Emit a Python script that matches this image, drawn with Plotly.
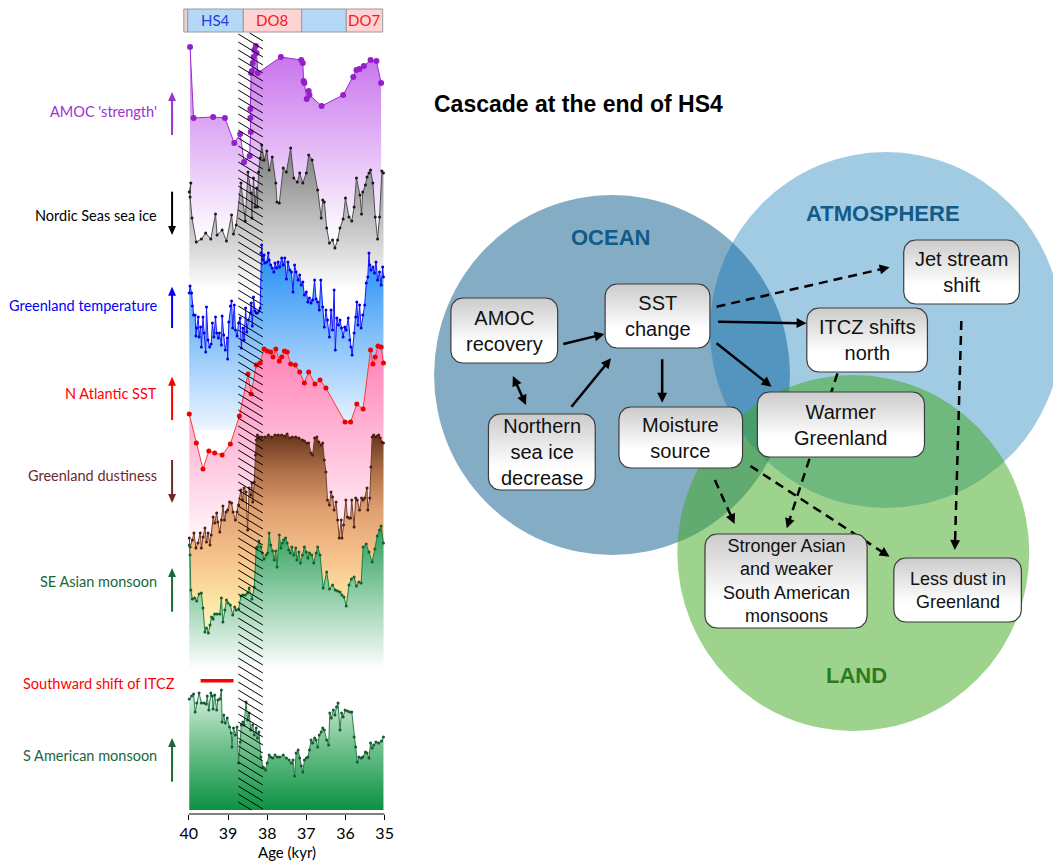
import math
import plotly.graph_objects as go

W, H = 1062, 862

# ------------------------------------------------------------------ data
amoc_age = [39.97, 39.88, 39.38, 39.08, 38.84, 38.69, 38.59, 38.45, 38.42, 38.43, 38.43, 38.41, 38.39, 38.37,
            38.35, 38.33, 38.29, 38.27, 38.24, 37.65, 37.13, 37.09, 37.07, 37.05, 36.99, 36.94, 36.92, 36.61,
            36.06, 35.80, 35.72, 35.64, 35.53, 35.36, 35.21, 35.09]
amoc_val = [193, 122, 123, 122, 97, 106, 78, 84, 108, 122, 131, 167, 169, 177, 183, 190, 194, 187, 167, 183,
            180, 177, 159, 157, 141, 149, 145, 134, 145, 163, 170, 171, 174, 180, 179, 157]

ice_age = [39.99, 39.95, 39.97, 39.92, 39.81, 39.68, 39.57, 39.44, 39.32, 39.28, 39.15, 39.04, 38.91, 38.86,
           38.79, 38.67, 38.56, 38.49, 38.41, 38.39, 38.35, 38.31, 38.27, 38.25, 38.22, 38.18, 38.14, 38.08,
           38.01, 37.95, 37.87, 37.78, 37.75, 37.69, 37.59, 37.51, 37.40, 37.32, 37.23, 37.17, 37.09, 37.00,
           36.94, 36.85, 36.71, 36.62, 36.58, 36.54, 36.48, 36.41, 36.33, 36.27, 36.20, 36.14, 36.06, 36.00,
           35.91, 35.84, 35.78, 35.72, 35.63, 35.59, 35.56, 35.49, 35.45, 35.40, 35.36, 35.30, 35.24, 35.18,
           35.13, 35.07, 35.03]
ice_val = [98, 107, 93, 72, 48, 51, 57, 51, 76, 55, 60, 49, 75, 56, 65, 107, 69, 118, 97, 72, 112, 83, 102, 83,
           118, 132, 145, 130, 139, 120, 133, 107, 88, 87, 122, 118, 142, 112, 108, 117, 107, 117, 135, 130,
           100, 72, 90, 88, 62, 47, 50, 42, 50, 62, 71, 92, 73, 69, 83, 112, 95, 76, 98, 105, 113, 117, 120,
           107, 73, 51, 73, 119, 117]

gtemp_age = [39.99, 39.97, 39.93, 39.91, 39.88, 39.84, 39.82, 39.80, 39.76, 39.74, 39.70, 39.68, 39.64, 39.61,
             39.57, 39.55, 39.51, 39.47, 39.43, 39.40, 39.36, 39.32, 39.29, 39.25, 39.22, 39.17, 39.15, 39.11,
             39.07, 39.02, 39.01, 38.98, 38.94, 38.91, 38.88, 38.84, 38.81, 38.77, 38.73, 38.69, 38.66, 38.62,
             38.59, 38.55, 38.52, 38.48, 38.43, 38.41, 38.38, 38.35, 38.31, 38.28, 38.25, 38.21, 38.18, 38.16,
             38.14, 38.11, 38.08, 38.06, 38.01, 37.97, 37.95, 37.91, 37.87, 37.83, 37.80, 37.76, 37.72, 37.68,
             37.63, 37.59, 37.55, 37.51, 37.47, 37.42, 37.38, 37.34, 37.30, 37.26, 37.21, 37.17, 37.13, 37.09,
             37.05, 37.00, 36.96, 36.92, 36.88, 36.84, 36.79, 36.75, 36.71, 36.67, 36.63, 36.58, 36.54, 36.50,
             36.46, 36.41, 36.37, 36.33, 36.29, 36.26, 36.22, 36.18, 36.14, 36.10, 36.06, 36.02, 35.98, 35.93,
             35.89, 35.86, 35.83, 35.78, 35.74, 35.71, 35.68, 35.64, 35.60, 35.56, 35.51, 35.47, 35.43, 35.40,
             35.38, 35.35, 35.30, 35.26, 35.22, 35.18, 35.13, 35.09, 35.05, 35.03]
gtemp_val = [137, 144, 137, 124, 115, 115, 94, 102, 113, 93, 103, 83, 113, 97, 78, 123, 90, 83, 86, 107,
             93, 113, 97, 92, 97, 85, 114, 95, 80, 92, 71, 108, 124, 129, 102, 125, 100, 94, 107, 112,
             82, 102, 90, 122, 98, 110, 117, 127, 104, 133, 119, 117, 117, 119, 122, 177, 185, 170, 175, 167,
             168, 177, 170, 165, 162, 158, 167, 162, 168, 163, 172, 165, 172, 151, 168, 160, 158, 138, 165, 158,
             150, 155, 145, 148, 135, 138, 128, 132, 127, 130, 150, 131, 128, 120, 150, 123, 103, 120, 110, 93,
             120, 100, 140, 80, 112, 105, 110, 102, 93, 103, 100, 112, 90, 83, 75, 97, 113, 128, 105, 125,
             102, 115, 125, 147, 153, 177, 165, 160, 163, 157, 168, 150, 158, 145, 163, 153]

sst_age = [39.99, 39.81, 39.64, 39.49, 39.34, 39.15, 38.94, 38.71, 38.49, 38.41, 38.28, 38.18, 38.08, 38.00,
           37.91, 37.85, 37.78, 37.69, 37.63, 37.56, 37.49, 37.40, 37.28, 37.17, 37.05, 36.94, 36.78, 36.65,
           36.50, 36.01, 35.87, 35.71, 35.55, 35.36, 35.30, 35.24, 35.17, 35.09, 35.03]
sst_val = [126, 97, 71, 89, 87, 85, 96, 124, 166, 146, 175, 177, 191, 189, 188, 183, 191, 179, 183, 189, 188,
           176, 175, 168, 157, 168, 156, 160, 152, 118, 118, 136, 131, 190, 176, 183, 194, 193, 177]

dust_age = [39.99, 39.97, 39.91, 39.87, 39.82, 39.77, 39.71, 39.68, 39.64, 39.59, 39.55, 39.51, 39.46, 39.43,
            39.38, 39.34, 39.29, 39.26, 39.21, 39.17, 39.13, 39.09, 39.05, 39.01, 38.96, 38.91, 38.87, 38.81,
            38.77, 38.73, 38.67, 38.63, 38.59, 38.54, 38.50, 38.46, 38.42, 38.39, 38.37, 38.33, 38.30, 38.28,
            38.25, 38.20, 38.14, 38.06, 37.97, 37.89, 37.80, 37.72, 37.63, 37.55, 37.49, 37.42, 37.36, 37.27,
            37.19, 37.10, 37.05, 36.99, 36.94, 36.88, 36.84, 36.79, 36.73, 36.68, 36.62, 36.58, 36.54, 36.50,
            36.46, 36.41, 36.37, 36.33, 36.29, 36.24, 36.20, 36.16, 36.11, 36.09, 36.05, 35.99, 35.95, 35.91,
            35.87, 35.84, 35.78, 35.74, 35.70, 35.64, 35.59, 35.55, 35.51, 35.45, 35.43, 35.38, 35.35, 35.32,
            35.28, 35.24, 35.19, 35.15, 35.11, 35.07, 35.03]
dust_val = [122, 113, 120, 127, 112, 117, 127, 112, 123, 132, 118, 127, 115, 125, 143, 137, 147, 138, 128, 140,
            154, 140, 148, 150, 158, 157, 148, 140, 148, 155, 170, 160, 172, 168, 130, 172, 165, 177, 158, 178,
            205, 220, 225, 223, 223, 223, 225, 223, 225, 225, 225, 224, 226, 222, 223, 223, 222, 220, 219, 217,
            217, 207, 205, 222, 223, 218, 215, 217, 200, 188, 160, 155, 168, 163, 150, 158, 140, 122, 140, 122,
            135, 160, 143, 142, 142, 160, 133, 162, 160, 150, 162, 160, 162, 172, 150, 162, 193, 223, 225, 223,
            224, 225, 222, 218, 217]

seasia_age = [39.99, 39.97, 39.95, 39.91, 39.85, 39.80, 39.74, 39.68, 39.64, 39.59, 39.55, 39.50, 39.46, 39.42,
              39.38, 39.34, 39.28, 39.21, 39.17, 39.13, 39.08, 39.04, 39.00, 38.94, 38.88, 38.83, 38.79, 38.73,
              38.67, 38.62, 38.56, 38.50, 38.46, 38.39, 38.33, 38.28, 38.25, 38.21, 38.16, 38.12, 38.08, 38.03,
              37.99, 37.95, 37.91, 37.86, 37.82, 37.78, 37.75, 37.69, 37.65, 37.61, 37.58, 37.53, 37.49, 37.45,
              37.41, 37.37, 37.32, 37.27, 37.24, 37.19, 37.15, 37.10, 37.05, 37.00, 36.96, 36.92, 36.86, 36.81,
              36.75, 36.71, 36.65, 36.57, 36.48, 36.41, 36.33, 36.26, 36.20, 36.14, 36.09, 36.04, 35.98, 35.91,
              35.85, 35.78, 35.72, 35.66, 35.60, 35.55, 35.47, 35.40, 35.32, 35.25, 35.19, 35.13, 35.09, 35.03]
seasia_val = [125, 115, 80, 71, 72, 69, 76, 77, 62, 38, 42, 37, 45, 53, 51, 56, 56, 56, 72, 48,
              60, 70, 67, 65, 55, 63, 60, 61, 74, 75, 75, 77, 82, 71, 83, 122, 123, 129, 123, 117,
              111, 115, 117, 137, 125, 119, 110, 119, 103, 135, 122, 127, 130, 132, 127, 120, 117, 123, 115, 122,
              110, 118, 107, 115, 123, 118, 112, 117, 115, 107, 117, 123, 115, 82, 98, 81, 85, 80, 79, 78,
              75, 73, 64, 85, 91, 93, 84, 88, 87, 123, 126, 118, 108, 121, 134, 140, 144, 127]

samer_age = [39.99, 39.93, 39.88, 39.84, 39.80, 39.74, 39.68, 39.61, 39.56, 39.53, 39.49, 39.44, 39.40, 39.38,
             39.34, 39.29, 39.26, 39.21, 39.17, 39.15, 39.11, 39.07, 39.02, 38.96, 38.92, 38.90, 38.86, 38.81,
             38.77, 38.73, 38.69, 38.66, 38.62, 38.59, 38.54, 38.50, 38.46, 38.42, 38.37, 38.33, 38.28, 38.25,
             38.21, 38.16, 38.11, 38.08, 38.04, 38.00, 37.95, 37.91, 37.86, 37.80, 37.74, 37.68, 37.59, 37.51,
             37.44, 37.38, 37.34, 37.30, 37.26, 37.21, 37.17, 37.13, 37.09, 37.05, 37.00, 36.96, 36.92, 36.88,
             36.84, 36.79, 36.75, 36.71, 36.67, 36.62, 36.58, 36.54, 36.48, 36.43, 36.40, 36.36, 36.31, 36.27,
             36.23, 36.19, 36.14, 36.10, 36.06, 36.01, 35.95, 35.89, 35.84, 35.78, 35.74, 35.70, 35.66, 35.60,
             35.56, 35.49, 35.45, 35.40, 35.36, 35.32, 35.28, 35.22, 35.15, 35.08, 35.03]
samer_val = [111, 114, 116, 98, 107, 117, 107, 107, 106, 114, 100, 117, 114, 101, 115, 100, 110, 111, 120, 88,
             95, 87, 92, 83, 77, 63, 82, 75, 83, 47, 68, 85, 88, 85, 108, 90, 97, 80, 85, 75,
             82, 72, 78, 53, 43, 42, 40, 47, 55, 53, 52, 55, 53, 53, 55, 52, 50, 47, 50, 34,
             57, 60, 52, 44, 38, 50, 52, 53, 60, 70, 67, 72, 70, 63, 75, 78, 82, 80, 70, 65,
             97, 92, 100, 95, 103, 107, 80, 97, 93, 100, 99, 98, 98, 73, 63, 48, 53, 52, 53, 58,
             57, 52, 67, 62, 65, 68, 67, 69, 73]

tick_vals = [40, 39, 38, 37, 36, 35]
tick_text = ["40", "39", "38", "37", "36", "35"]

band_labels = ["", "HS4", "DO8", "", "DO7"]
band_start = [40.13, 40.03, 38.61, 37.12, 35.98]
band_end = [40.03, 38.61, 37.12, 35.98, 35.05]
band_kind = ["edge", "HS", "DO", "HS", "DO"]

hatch_ages = [38.74, 38.11]
itcz_ages = [39.70, 38.86]

panel_labels = ["AMOC 'strength'", "Nordic Seas sea ice", "Greenland temperature", "N Atlantic SST",
                "Greenland dustiness", "SE Asian monsoon", "Southward shift of ITCZ", "S American monsoon"]

# ------------------------------------------------------------------ styling / layout constants
PX40, PX35, XMAX = 188, 386, 40.15
FONT_L = "Lato, Carlito, sans-serif"
FONT_R = "Liberation Sans, Arial, sans-serif"

series = [
    # age, val, top px, bottom px, line colour, marker colour, marker size, gradient
    (amoc_age, amoc_val, 40, 240, "#9a2ad0", "#9420cc", 6, [[0, "#ffffff"], [1, "#c468ec"]]),
    (ice_age, ice_val, 140, 290, "#505050", "#1a1a1a", 3, [[0, "#ffffff"], [1, "#767676"]]),
    (gtemp_age, gtemp_val, 245, 430, "#1a1aff", "#0000e0", 3, [[0, "#eef6fe"], [1, "#1a8af5"]]),
    (sst_age, sst_val, 340, 540, "#ff3a3a", "#ee0000", 5, [[0, "#fff7fb"], [1, "#ff7db4"]]),
    (dust_age, dust_val, 430, 660, "#74402c", "#4a2015", 3,
     [[0, "#fffef2"], [0.25, "#fde6a4"], [0.45, "#f6c28c"], [0.65, "#e0a070"], [0.82, "#b07048"], [1, "#5c2e16"]]),
    (seasia_age, seasia_val, 525, 670, "#1d8043", "#13602f", 3, [[0, "#ffffff"], [1, "#2a9e58"]]),
    (samer_age, samer_val, 685, 810, "#2a7d50", "#175a32", 3,
     [[0, "#0b9242"], [0.5, "#6ec08c"], [1, "#e6f5ea"]]),
]

fig = go.Figure()
layout_axes = {}
for i, (ages, vals, top, bot, lc, mc, ms, cs) in enumerate(series):
    yname = "y" if i == 0 else f"y{i + 1}"
    fig.add_trace(go.Scatter(
        x=ages, y=vals, xaxis="x", yaxis=yname, mode="lines+markers",
        line=dict(color=lc, width=1), marker=dict(size=ms, color=mc),
        fill="tozeroy", fillgradient=dict(type="vertical", colorscale=cs, start=0, stop=bot - top),
        cliponaxis=False, hoverinfo="skip", showlegend=False))
    key = "yaxis" if i == 0 else f"yaxis{i + 1}"
    layout_axes[key] = dict(domain=[1 - bot / H, 1 - top / H], range=[0, bot - top], visible=False,
                            anchor="x", fixedrange=True)

px_left = PX40 - (XMAX - 40) * (PX35 - PX40) / 5
layout_axes["xaxis"] = dict(domain=[px_left / W, PX35 / W], range=[XMAX, 35], anchor="free",
                            position=1 - 814 / H, showline=False, ticks="outside", ticklen=5, tickwidth=1,
                            tickcolor="black", tickvals=tick_vals, ticktext=tick_text,
                            tickfont=dict(family=FONT_L, size=16, color="black"),
                            showgrid=False, zeroline=False, fixedrange=True)
layout_axes["xaxis2"] = dict(domain=[0, 1], range=[0, W], visible=False, anchor="y8", fixedrange=True)
layout_axes["yaxis8"] = dict(domain=[0, 1], range=[H, 0], visible=False, anchor="x2", fixedrange=True)

shapes = []
annotations = []

# axis line
shapes.append(dict(type="line", xref="x", yref="paper", x0=40, x1=35, y0=1 - 814 / H, y1=1 - 814 / H,
                   line=dict(color="black", width=1)))

# top band
band_fill = {"edge": "#ead2d2", "HS": "#b5d8f7", "DO": "#ffd3d3"}
band_txt = {"HS": "#1f3fd8", "DO": "#ee1c24", "edge": "#000"}
for lab, a0, a1, kind in zip(band_labels, band_start, band_end, band_kind):
    shapes.append(dict(type="rect", xref="x", yref="paper", x0=a0, x1=a1, y0=1 - 32 / H, y1=1 - 9 / H,
                       fillcolor=band_fill[kind], line=dict(color="#9a9a9a", width=1)))
    if lab:
        annotations.append(dict(x=(a0 + a1) / 2, y=1 - 20.5 / H, xref="x", yref="paper", text=lab,
                                showarrow=False, xanchor="center", yanchor="middle",
                                font=dict(family=FONT_L, size=15, color=band_txt[kind])))

# hatched interval
hx0, hx1 = hatch_ages
ytop, ybot, drop, step = 33, 810, 15, 8
path = ""
yl = ytop - drop
while yl < ybot:
    t0 = max(0.0, (ytop - yl) / drop)
    t1 = min(1.0, (ybot - yl) / drop)
    if t1 > t0:
        xa = hx0 + t0 * (hx1 - hx0)
        xb = hx0 + t1 * (hx1 - hx0)
        ya = 1 - (yl + t0 * drop) / H
        yb = 1 - (yl + t1 * drop) / H
        path += f"M{xa},{ya} L{xb},{yb} "
    yl += step
shapes.append(dict(type="path", xref="x", yref="paper", path=path, line=dict(color="black", width=1)))

# ITCZ bar
shapes.append(dict(type="line", xref="x", yref="paper", x0=itcz_ages[0], x1=itcz_ages[1],
                   y0=1 - 680.7 / H, y1=1 - 680.7 / H, line=dict(color="#ff0000", width=3.5)))

annotations.append(dict(x=287, y=852, xref="x2", yref="y8", text="Age (kyr)", showarrow=False,
                        font=dict(family=FONT_L, size=15, color="black")))

# left labels + direction arrows
label_y = [111.7, 215, 305, 393, 475, 581.7, 683, 755]
label_col = ["#9933cc", "#000000", "#0000ff", "#ff0000", "#6b2b2b", "#17693a", "#ff0000", "#17693a"]
for txt, yy, col in zip(panel_labels, label_y, label_col):
    xr = 176 if "ITCZ" in txt else 158
    annotations.append(dict(x=xr, y=yy, xref="x2", yref="y8", text=txt, showarrow=False, xanchor="right",
                            yanchor="middle", font=dict(family=FONT_L, size=14.5, color=col)))


def head_pts(x0, y0, x1, y1, L, Wd):
    dx, dy = x1 - x0, y1 - y0
    n = math.hypot(dx, dy)
    ux, uy = dx / n, dy / n
    bx, by = x1 - ux * L, y1 - uy * L
    nx, ny = -uy, ux
    return [x1, bx + nx * Wd, bx - nx * Wd, x1], [y1, by + ny * Wd, by - ny * Wd, y1]


def add_arrow(x0, y0, x1, y1, color="black", width=2.5, dash="solid", both=False, L=10, Wd=5):
    dx, dy = x1 - x0, y1 - y0
    n = math.hypot(dx, dy)
    ux, uy = dx / n, dy / n
    ex, ey = x1 - ux * L * 0.8, y1 - uy * L * 0.8
    sx, sy = (x0 + ux * L * 0.8, y0 + uy * L * 0.8) if both else (x0, y0)
    fig.add_trace(go.Scatter(x=[sx, ex], y=[sy, ey], xaxis="x2", yaxis="y8", mode="lines",
                             line=dict(color=color, width=width, dash=dash), hoverinfo="skip", showlegend=False))
    hx, hy = head_pts(x0, y0, x1, y1, L, Wd)
    fig.add_trace(go.Scatter(x=hx, y=hy, xaxis="x2", yaxis="y8", mode="lines", fill="toself",
                             fillcolor=color, line=dict(width=0, color=color), hoverinfo="skip", showlegend=False))
    if both:
        hx, hy = head_pts(x1, y1, x0, y0, L, Wd)
        fig.add_trace(go.Scatter(x=hx, y=hy, xaxis="x2", yaxis="y8", mode="lines", fill="toself",
                                 fillcolor=color, line=dict(width=0, color=color), hoverinfo="skip",
                                 showlegend=False))


left_arrows = [(135, 92), (191.7, 235), (328, 286.7), (420, 376.7), (460, 503), (611.7, 568), (781.7, 738)]
left_arrow_col = ["#9933cc", "#000000", "#0000ff", "#ff0000", "#6b2b2b", "#17693a", "#17693a"]
for (ya, yb), col in zip(left_arrows, left_arrow_col):
    add_arrow(171, ya, 171, yb, color=col, width=2, L=9, Wd=4)

# ------------------------------------------------------------------ right-hand diagram
annotations.append(dict(x=434, y=104, xref="x2", yref="y8", text="<b>Cascade at the end of HS4</b>",
                        showarrow=False, xanchor="left", yanchor="middle",
                        font=dict(family=FONT_R, size=23, color="black")))

circles = [
    (616, 375, 180, "rgb(132,172,196)"),
    (893, 330, 178, "rgba(0,112,178,0.37)"),
    (860, 553, 178, "rgba(62,168,28,0.5)"),
]
for cx, cy, r, col in circles:
    shapes.append(dict(type="circle", xref="x2", yref="y8", x0=cx - r, x1=cx + r, y0=cy - r, y1=cy + r,
                       fillcolor=col, line=dict(width=0), layer="below"))

for txt, x, y, col in [("OCEAN", 614, 237, "#125a88"), ("ATMOSPHERE", 890, 213, "#125a88"),
                       ("LAND", 863, 675, "#2d7a1f")]:
    annotations.append(dict(x=x, y=y, xref="x2", yref="y8", text=f"<b>{txt}</b>", showarrow=False,
                            font=dict(family=FONT_R, size=22, color=col)))

arrows = [
    ((566.7, 344), (608.3, 334), "solid", False),
    ((515.7, 376), (529, 405), "solid", True),
    ((575, 406.7), (615, 358.3), "solid", False),
    ((666.7, 359.3), (666.7, 402.7), "solid", False),
    ((721.7, 306.7), (896.7, 267.3), "9px,6px", False),
    ((723.3, 321.7), (812.7, 323.3), "solid", False),
    ((721.7, 343.3), (777.3, 386.7), "solid", False),
    ((844, 373.3), (792.7, 528.3), "9px,6px", False),
    ((969.3, 321), (962.7, 550), "9px,6px", False),
    ((720, 480), (740, 524), "9px,6px", False),
    ((756, 466), (896.7, 556.7), "9px,6px", False),
]
for (p0, p1, dash, both) in arrows:
    add_arrow(p0[0], p0[1], p1[0], p1[1], dash=dash, both=both)

boxes = [
    ("AMOC<br>recovery", 453, 561, 298, 363, 20),
    ("SST<br>change", 609, 715, 284, 348, 20),
    ("Northern<br>sea ice<br>decrease", 491, 599, 414, 490, 20),
    ("Moisture<br>source", 623, 748, 407, 468, 20),
    ("Jet stream<br>shift", 911, 1028, 240, 304, 20),
    ("ITCZ shifts<br>north", 813, 935, 308, 372, 20),
    ("Warmer<br>Greenland", 763, 932, 392, 457, 20),
    ("Stronger Asian<br>and weaker<br>South American<br>monsoons", 710, 874, 534, 628, 18),
    ("Less dust in<br>Greenland", 901, 1030, 558, 622, 18),
]


def rrect(x0, x1, y0, y1, r=12, n=8):
    xs, ys = [], []
    corners = [(x1 - r, y0 + r, -90, 0), (x1 - r, y1 - r, 0, 90), (x0 + r, y1 - r, 90, 180),
               (x0 + r, y0 + r, 180, 270)]
    for cx, cy, a0, a1 in corners:
        for k in range(n + 1):
            a = math.radians(a0 + (a1 - a0) * k / n)
            xs.append(cx + r * math.cos(a))
            ys.append(cy + r * math.sin(a))
    xs.append(xs[0])
    ys.append(ys[0])
    return xs, ys


for txt, x0, x1, y0, y1, fs in boxes:
    xs, ys = rrect(x0, x1, y0, y1)
    fig.add_trace(go.Scatter(x=xs, y=ys, xaxis="x2", yaxis="y8", mode="lines", fill="toself",
                             fillgradient=dict(type="vertical", start=y0, stop=y1,
                                               colorscale=[[0, "#cbcbcb"], [0.7, "#ffffff"], [1, "#ffffff"]]),
                             line=dict(color="#3c3c3c", width=1.2), hoverinfo="skip", showlegend=False))
    annotations.append(dict(x=(x0 + x1) / 2, y=(y0 + y1) / 2, xref="x2", yref="y8", text=txt,
                            showarrow=False, font=dict(family=FONT_R, size=fs, color="#111111")))

fig.update_layout(
    width=W, height=H, margin=dict(l=0, r=0, t=0, b=0),
    paper_bgcolor="white", plot_bgcolor="rgba(0,0,0,0)",
    showlegend=False, shapes=shapes, annotations=annotations, hovermode=False,
    **layout_axes)

fig.write_html("out.html", config={"displayModeBar": False, "staticPlot": True},
               post_script="document.body.style.margin='0';document.body.style.overflow='hidden';")
